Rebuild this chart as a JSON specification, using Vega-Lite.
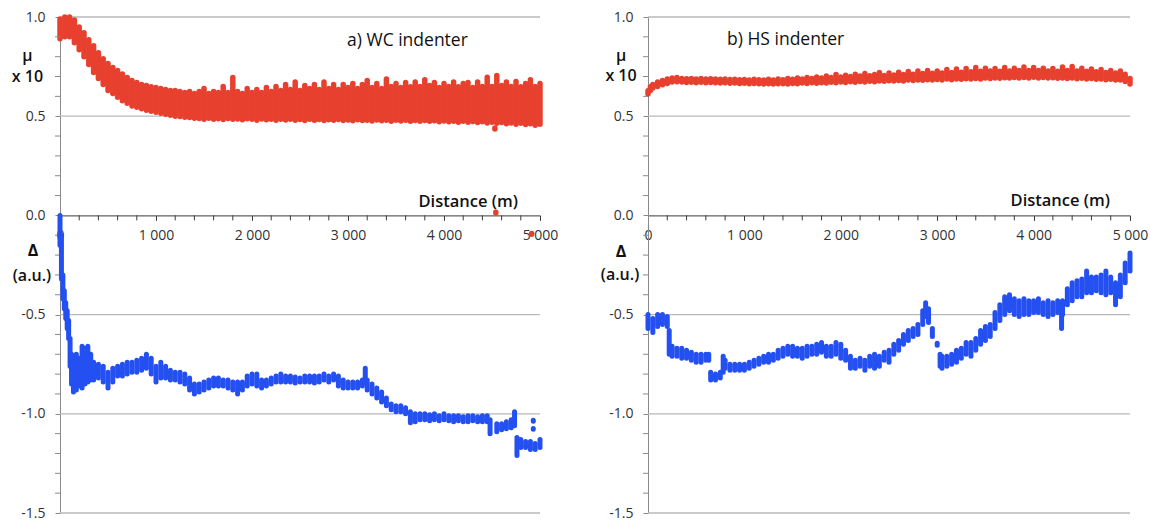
{
  "$schema": "https://vega.github.io/schema/vega-lite/v6.json",
  "padding": {"left": 11, "top": 10, "right": 0, "bottom": 0},
  "background": "white",
  "bounds": "flush",
  "spacing": 108,
  "config": {"view": {"stroke": null}, "font": "Open Sans"},
  "datasets": {
    "xMinor": [{"d":200},{"d":400},{"d":600},{"d":800},{"d":1200},{"d":1400},{"d":1600},{"d":1800},{"d":2200},{"d":2400},{"d":2600},{"d":2800},{"d":3200},{"d":3400},{"d":3600},{"d":3800},{"d":4200},{"d":4400},{"d":4600},{"d":4800}],
    "yMinor": [{"v":-1.4},{"v":-1.3},{"v":-1.2},{"v":-1.1},{"v":-0.9},{"v":-0.8},{"v":-0.7},{"v":-0.6},{"v":-0.4},{"v":-0.3},{"v":-0.2},{"v":-0.1},{"v":0.1},{"v":0.2},{"v":0.3},{"v":0.4},{"v":0.6},{"v":0.7},{"v":0.8},{"v":0.9}],
    "grid": [{"v":1.0},{"v":0.5},{"v":-0.5},{"v":-1.0},{"v":-1.5}],
    "wcMu": [
      {"d":0,"lo":0.89,"hi":0.99},{"d":50,"lo":0.9,"hi":1.0},{"d":100,"lo":0.9,"hi":1.0},{"d":150,"lo":0.87,"hi":0.985},{"d":200,"lo":0.835,"hi":0.95},{"d":250,"lo":0.8,"hi":0.92},{"d":300,"lo":0.76,"hi":0.885},{"d":350,"lo":0.72,"hi":0.855},{"d":400,"lo":0.69,"hi":0.82},{"d":450,"lo":0.66,"hi":0.79},{"d":500,"lo":0.63,"hi":0.765},{"d":550,"lo":0.615,"hi":0.745},{"d":600,"lo":0.595,"hi":0.73},{"d":650,"lo":0.578,"hi":0.713},{"d":700,"lo":0.565,"hi":0.695},{"d":750,"lo":0.552,"hi":0.68},{"d":800,"lo":0.545,"hi":0.67},{"d":850,"lo":0.537,"hi":0.66},{"d":900,"lo":0.53,"hi":0.655},{"d":950,"lo":0.525,"hi":0.648},{"d":1000,"lo":0.52,"hi":0.645},{"d":1050,"lo":0.515,"hi":0.64},{"d":1100,"lo":0.51,"hi":0.635},{"d":1150,"lo":0.505,"hi":0.63},{"d":1200,"lo":0.5,"hi":0.63},{"d":1250,"lo":0.498,"hi":0.625},{"d":1300,"lo":0.495,"hi":0.62},{"d":1350,"lo":0.494,"hi":0.625},{"d":1400,"lo":0.49,"hi":0.615},
      {"d":1450,"lo":0.488,"hi":0.625},{"d":1500,"lo":0.485,"hi":0.64},{"d":1550,"lo":0.49,"hi":0.615},{"d":1600,"lo":0.484,"hi":0.625},{"d":1650,"lo":0.487,"hi":0.62},{"d":1700,"lo":0.483,"hi":0.65},{"d":1750,"lo":0.488,"hi":0.62},{"d":1800,"lo":0.485,"hi":0.695},{"d":1850,"lo":0.486,"hi":0.625},{"d":1900,"lo":0.482,"hi":0.615},{"d":1950,"lo":0.487,"hi":0.64},{"d":2000,"lo":0.484,"hi":0.62},{"d":2050,"lo":0.48,"hi":0.635},{"d":2100,"lo":0.486,"hi":0.62},{"d":2150,"lo":0.482,"hi":0.645},{"d":2200,"lo":0.485,"hi":0.625},{"d":2250,"lo":0.48,"hi":0.65},{"d":2300,"lo":0.484,"hi":0.63},{"d":2350,"lo":0.481,"hi":0.66},{"d":2400,"lo":0.485,"hi":0.635},{"d":2450,"lo":0.48,"hi":0.672},{"d":2500,"lo":0.483,"hi":0.63},{"d":2550,"lo":0.478,"hi":0.655},{"d":2600,"lo":0.484,"hi":0.64},{"d":2650,"lo":0.48,"hi":0.66},{"d":2700,"lo":0.483,"hi":0.635},{"d":2750,"lo":0.478,"hi":0.672},{"d":2800,"lo":0.482,"hi":0.64},{"d":2850,"lo":0.479,"hi":0.66},{"d":2900,"lo":0.483,"hi":0.635},{"d":2950,"lo":0.478,"hi":0.66},{"d":3000,"lo":0.481,"hi":0.645},{"d":3050,"lo":0.477,"hi":0.665},{"d":3100,"lo":0.482,"hi":0.64},{"d":3150,"lo":0.478,"hi":0.66},{"d":3200,"lo":0.48,"hi":0.68},{"d":3250,"lo":0.476,"hi":0.645},{"d":3300,"lo":0.481,"hi":0.665},{"d":3350,"lo":0.477,"hi":0.64},{"d":3400,"lo":0.48,"hi":0.688},{"d":3450,"lo":0.475,"hi":0.65},{"d":3500,"lo":0.479,"hi":0.665},{"d":3550,"lo":0.476,"hi":0.645},{"d":3600,"lo":0.48,"hi":0.67},{"d":3650,"lo":0.475,"hi":0.648},{"d":3700,"lo":0.478,"hi":0.672},{"d":3750,"lo":0.474,"hi":0.65},{"d":3800,"lo":0.478,"hi":0.684},{"d":3850,"lo":0.474,"hi":0.655},{"d":3900,"lo":0.477,"hi":0.67},{"d":3950,"lo":0.472,"hi":0.645},{"d":4000,"lo":0.476,"hi":0.665},{"d":4050,"lo":0.472,"hi":0.65},{"d":4100,"lo":0.475,"hi":0.672},{"d":4150,"lo":0.47,"hi":0.648},{"d":4200,"lo":0.474,"hi":0.665},{"d":4250,"lo":0.47,"hi":0.67},{"d":4300,"lo":0.473,"hi":0.645},{"d":4350,"lo":0.468,"hi":0.672},{"d":4400,"lo":0.472,"hi":0.65},{"d":4450,"lo":0.466,"hi":0.696},{"d":4500,"lo":0.47,"hi":0.65},{"d":4550,"lo":0.465,"hi":0.705},{"d":4600,"lo":0.468,"hi":0.655},{"d":4650,"lo":0.462,"hi":0.672},{"d":4700,"lo":0.466,"hi":0.65},{"d":4750,"lo":0.46,"hi":0.675},{"d":4800,"lo":0.465,"hi":0.648},{"d":4850,"lo":0.458,"hi":0.665},{"d":4900,"lo":0.462,"hi":0.684},{"d":4950,"lo":0.455,"hi":0.65},{"d":5000,"lo":0.46,"hi":0.665},
      {"d":4530,"lo":0.436,"hi":0.44},{"d":4540,"lo":0.012,"hi":0.016},{"d":4913,"lo":-0.095,"hi":-0.091}
    ],
    "wcDelta": [
      {"d":0,"lo":-0.15,"hi":0.0},{"d":15,"lo":-0.32,"hi":-0.1},{"d":30,"lo":-0.42,"hi":-0.3},{"d":45,"lo":-0.47,"hi":-0.38},{"d":60,"lo":-0.52,"hi":-0.44},{"d":75,"lo":-0.57,"hi":-0.48},{"d":90,"lo":-0.62,"hi":-0.53},{"d":105,"lo":-0.76,"hi":-0.62},{"d":120,"lo":-0.85,"hi":-0.7},{"d":140,"lo":-0.89,"hi":-0.72},{"d":170,"lo":-0.88,"hi":-0.7},{"d":200,"lo":-0.86,"hi":-0.72},{"d":230,"lo":-0.87,"hi":-0.66},{"d":260,"lo":-0.85,"hi":-0.67},{"d":290,"lo":-0.84,"hi":-0.66},{"d":320,"lo":-0.83,"hi":-0.7},{"d":350,"lo":-0.83,"hi":-0.74},{"d":400,"lo":-0.82,"hi":-0.75},{"d":450,"lo":-0.84,"hi":-0.76},{"d":500,"lo":-0.87,"hi":-0.79},{"d":550,"lo":-0.84,"hi":-0.77},{"d":600,"lo":-0.81,"hi":-0.76},{"d":650,"lo":-0.81,"hi":-0.75},{"d":700,"lo":-0.8,"hi":-0.74},{"d":750,"lo":-0.79,"hi":-0.74},{"d":800,"lo":-0.79,"hi":-0.73},{"d":850,"lo":-0.78,"hi":-0.72},{"d":900,"lo":-0.77,"hi":-0.7},{"d":950,"lo":-0.8,"hi":-0.72},{"d":1000,"lo":-0.84,"hi":-0.76},{"d":1050,"lo":-0.82,"hi":-0.74},{"d":1100,"lo":-0.82,"hi":-0.76},{"d":1150,"lo":-0.83,"hi":-0.78},{"d":1200,"lo":-0.83,"hi":-0.79},{"d":1250,"lo":-0.84,"hi":-0.79},{"d":1300,"lo":-0.85,"hi":-0.8},{"d":1350,"lo":-0.88,"hi":-0.82},{"d":1400,"lo":-0.9,"hi":-0.85},{"d":1450,"lo":-0.89,"hi":-0.85},{"d":1500,"lo":-0.88,"hi":-0.84},{"d":1550,"lo":-0.87,"hi":-0.83},{"d":1600,"lo":-0.86,"hi":-0.82},{"d":1650,"lo":-0.86,"hi":-0.82},{"d":1700,"lo":-0.86,"hi":-0.83},{"d":1750,"lo":-0.87,"hi":-0.83},{"d":1800,"lo":-0.88,"hi":-0.84},{"d":1850,"lo":-0.9,"hi":-0.84},{"d":1900,"lo":-0.88,"hi":-0.84},{"d":1950,"lo":-0.86,"hi":-0.81},{"d":2000,"lo":-0.85,"hi":-0.8},{"d":2050,"lo":-0.86,"hi":-0.8},{"d":2100,"lo":-0.87,"hi":-0.83},{"d":2150,"lo":-0.86,"hi":-0.83},{"d":2200,"lo":-0.85,"hi":-0.82},{"d":2250,"lo":-0.84,"hi":-0.81},{"d":2300,"lo":-0.84,"hi":-0.8},{"d":2350,"lo":-0.84,"hi":-0.81},{"d":2400,"lo":-0.84,"hi":-0.81},{"d":2450,"lo":-0.845,"hi":-0.815},{"d":2500,"lo":-0.84,"hi":-0.82},{"d":2550,"lo":-0.84,"hi":-0.81},{"d":2600,"lo":-0.84,"hi":-0.81},{"d":2650,"lo":-0.845,"hi":-0.81},{"d":2700,"lo":-0.84,"hi":-0.81},{"d":2750,"lo":-0.83,"hi":-0.8},{"d":2800,"lo":-0.84,"hi":-0.81},{"d":2850,"lo":-0.83,"hi":-0.8},{"d":2900,"lo":-0.86,"hi":-0.81},{"d":2950,"lo":-0.87,"hi":-0.83},{"d":3000,"lo":-0.87,"hi":-0.84},{"d":3050,"lo":-0.87,"hi":-0.84},{"d":3100,"lo":-0.87,"hi":-0.84},{"d":3150,"lo":-0.86,"hi":-0.83},{"d":3180,"lo":-0.84,"hi":-0.77},{"d":3200,"lo":-0.88,"hi":-0.83},{"d":3250,"lo":-0.9,"hi":-0.85},{"d":3300,"lo":-0.92,"hi":-0.87},{"d":3350,"lo":-0.94,"hi":-0.89},{"d":3400,"lo":-0.96,"hi":-0.92},{"d":3450,"lo":-0.98,"hi":-0.95},{"d":3500,"lo":-0.99,"hi":-0.96},{"d":3550,"lo":-0.99,"hi":-0.96},{"d":3600,"lo":-1.0,"hi":-0.97},{"d":3650,"lo":-1.045,"hi":-0.99},{"d":3700,"lo":-1.04,"hi":-1.0},{"d":3750,"lo":-1.03,"hi":-1.0},{"d":3800,"lo":-1.03,"hi":-1.0},{"d":3850,"lo":-1.035,"hi":-1.005},{"d":3900,"lo":-1.03,"hi":-1.0},{"d":3950,"lo":-1.035,"hi":-1.01},{"d":4000,"lo":-1.03,"hi":-1.0},{"d":4050,"lo":-1.035,"hi":-1.01},{"d":4100,"lo":-1.04,"hi":-1.01},{"d":4150,"lo":-1.035,"hi":-1.01},{"d":4200,"lo":-1.04,"hi":-1.015},{"d":4250,"lo":-1.04,"hi":-1.01},{"d":4300,"lo":-1.035,"hi":-1.01},{"d":4350,"lo":-1.04,"hi":-1.015},{"d":4400,"lo":-1.04,"hi":-1.01},{"d":4450,"lo":-1.04,"hi":-1.01},{"d":4480,"lo":-1.1,"hi":-1.03},{"d":4550,"lo":-1.09,"hi":-1.05},{"d":4600,"lo":-1.08,"hi":-1.05},{"d":4650,"lo":-1.075,"hi":-1.04},{"d":4700,"lo":-1.07,"hi":-1.03},{"d":4735,"lo":-1.06,"hi":-0.99},{"d":4760,"lo":-1.21,"hi":-1.12},{"d":4800,"lo":-1.17,"hi":-1.13},{"d":4850,"lo":-1.17,"hi":-1.14},{"d":4900,"lo":-1.18,"hi":-1.14},{"d":4950,"lo":-1.18,"hi":-1.15},{"d":5000,"lo":-1.17,"hi":-1.13},{"d":4930,"lo":-1.037,"hi":-1.033},{"d":4930,"lo":-1.078,"hi":-1.074}
    ],
    "hsMu": [
      {"d":0,"lo":0.612,"hi":0.628},{"d":25,"lo":0.63,"hi":0.648},{"d":50,"lo":0.642,"hi":0.66},{"d":100,"lo":0.65,"hi":0.672},{"d":150,"lo":0.658,"hi":0.68},{"d":200,"lo":0.665,"hi":0.688},{"d":250,"lo":0.672,"hi":0.693},{"d":300,"lo":0.674,"hi":0.695},{"d":350,"lo":0.672,"hi":0.69},{"d":400,"lo":0.67,"hi":0.689},{"d":450,"lo":0.671,"hi":0.69},{"d":500,"lo":0.669,"hi":0.688},{"d":550,"lo":0.671,"hi":0.69},{"d":600,"lo":0.668,"hi":0.688},{"d":650,"lo":0.67,"hi":0.689},{"d":700,"lo":0.669,"hi":0.687},{"d":750,"lo":0.667,"hi":0.686},{"d":800,"lo":0.668,"hi":0.687},{"d":850,"lo":0.666,"hi":0.685},{"d":900,"lo":0.667,"hi":0.686},{"d":950,"lo":0.665,"hi":0.684},{"d":1000,"lo":0.666,"hi":0.685},{"d":1050,"lo":0.664,"hi":0.683},{"d":1100,"lo":0.665,"hi":0.686},{"d":1150,"lo":0.663,"hi":0.684},{"d":1200,"lo":0.662,"hi":0.682},{"d":1250,"lo":0.664,"hi":0.686},{"d":1300,"lo":0.662,"hi":0.683},{"d":1350,"lo":0.663,"hi":0.688},{"d":1400,"lo":0.664,"hi":0.684},{"d":1450,"lo":0.662,"hi":0.69},{"d":1500,"lo":0.665,"hi":0.686},{"d":1550,"lo":0.663,"hi":0.692},{"d":1600,"lo":0.667,"hi":0.688},{"d":1650,"lo":0.665,"hi":0.695},{"d":1700,"lo":0.668,"hi":0.69},{"d":1750,"lo":0.666,"hi":0.698},{"d":1800,"lo":0.669,"hi":0.692},{"d":1850,"lo":0.667,"hi":0.702},{"d":1900,"lo":0.671,"hi":0.695},{"d":1950,"lo":0.668,"hi":0.71},{"d":2000,"lo":0.672,"hi":0.698},{"d":2050,"lo":0.67,"hi":0.706},{"d":2100,"lo":0.674,"hi":0.7},{"d":2150,"lo":0.671,"hi":0.712},{"d":2200,"lo":0.675,"hi":0.702},{"d":2250,"lo":0.672,"hi":0.715},{"d":2300,"lo":0.676,"hi":0.704},{"d":2350,"lo":0.674,"hi":0.71},{"d":2400,"lo":0.678,"hi":0.72},{"d":2450,"lo":0.676,"hi":0.705},{"d":2500,"lo":0.679,"hi":0.718},{"d":2550,"lo":0.677,"hi":0.708},{"d":2600,"lo":0.68,"hi":0.722},{"d":2650,"lo":0.678,"hi":0.71},{"d":2700,"lo":0.682,"hi":0.725},{"d":2750,"lo":0.68,"hi":0.712},{"d":2800,"lo":0.683,"hi":0.728},{"d":2850,"lo":0.681,"hi":0.715},{"d":2900,"lo":0.684,"hi":0.73},{"d":2950,"lo":0.682,"hi":0.716},{"d":3000,"lo":0.685,"hi":0.728},{"d":3050,"lo":0.683,"hi":0.718},{"d":3100,"lo":0.687,"hi":0.735},{"d":3150,"lo":0.684,"hi":0.72},{"d":3200,"lo":0.688,"hi":0.738},{"d":3250,"lo":0.686,"hi":0.722},{"d":3300,"lo":0.689,"hi":0.74},{"d":3350,"lo":0.687,"hi":0.724},{"d":3400,"lo":0.69,"hi":0.745},{"d":3450,"lo":0.688,"hi":0.726},{"d":3500,"lo":0.692,"hi":0.742},{"d":3550,"lo":0.69,"hi":0.728},{"d":3600,"lo":0.693,"hi":0.74},{"d":3650,"lo":0.691,"hi":0.726},{"d":3700,"lo":0.694,"hi":0.745},{"d":3750,"lo":0.692,"hi":0.728},{"d":3800,"lo":0.695,"hi":0.742},{"d":3850,"lo":0.692,"hi":0.73},{"d":3900,"lo":0.695,"hi":0.748},{"d":3950,"lo":0.693,"hi":0.73},{"d":4000,"lo":0.696,"hi":0.745},{"d":4050,"lo":0.693,"hi":0.73},{"d":4100,"lo":0.695,"hi":0.742},{"d":4150,"lo":0.692,"hi":0.728},{"d":4200,"lo":0.694,"hi":0.74},{"d":4250,"lo":0.691,"hi":0.726},{"d":4300,"lo":0.693,"hi":0.748},{"d":4350,"lo":0.69,"hi":0.73},{"d":4400,"lo":0.692,"hi":0.75},{"d":4450,"lo":0.689,"hi":0.728},{"d":4500,"lo":0.691,"hi":0.742},{"d":4550,"lo":0.688,"hi":0.726},{"d":4600,"lo":0.69,"hi":0.738},{"d":4650,"lo":0.686,"hi":0.724},{"d":4700,"lo":0.688,"hi":0.735},{"d":4750,"lo":0.684,"hi":0.72},{"d":4800,"lo":0.686,"hi":0.73},{"d":4850,"lo":0.682,"hi":0.718},{"d":4900,"lo":0.683,"hi":0.728},{"d":4950,"lo":0.675,"hi":0.712},{"d":5000,"lo":0.662,"hi":0.69}
    ],
    "hsDelta": [
      {"d":0,"lo":-0.57,"hi":-0.5},{"d":50,"lo":-0.59,"hi":-0.52},{"d":100,"lo":-0.56,"hi":-0.5},{"d":150,"lo":-0.55,"hi":-0.5},{"d":200,"lo":-0.56,"hi":-0.51},{"d":220,"lo":-0.7,"hi":-0.58},{"d":250,"lo":-0.71,"hi":-0.66},{"d":300,"lo":-0.71,"hi":-0.67},{"d":350,"lo":-0.72,"hi":-0.67},{"d":400,"lo":-0.72,"hi":-0.68},{"d":450,"lo":-0.73,"hi":-0.69},{"d":500,"lo":-0.74,"hi":-0.7},{"d":550,"lo":-0.74,"hi":-0.7},{"d":600,"lo":-0.73,"hi":-0.7},{"d":630,"lo":-0.73,"hi":-0.7},{"d":650,"lo":-0.83,"hi":-0.79},{"d":700,"lo":-0.83,"hi":-0.8},{"d":750,"lo":-0.82,"hi":-0.79},{"d":780,"lo":-0.79,"hi":-0.71},{"d":800,"lo":-0.77,"hi":-0.73},{"d":850,"lo":-0.78,"hi":-0.75},{"d":900,"lo":-0.78,"hi":-0.75},{"d":950,"lo":-0.78,"hi":-0.75},{"d":1000,"lo":-0.78,"hi":-0.75},{"d":1050,"lo":-0.77,"hi":-0.74},{"d":1100,"lo":-0.76,"hi":-0.73},{"d":1150,"lo":-0.75,"hi":-0.72},{"d":1200,"lo":-0.74,"hi":-0.71},{"d":1250,"lo":-0.74,"hi":-0.7},{"d":1300,"lo":-0.73,"hi":-0.7},{"d":1350,"lo":-0.72,"hi":-0.68},{"d":1400,"lo":-0.71,"hi":-0.67},{"d":1450,"lo":-0.7,"hi":-0.66},{"d":1500,"lo":-0.71,"hi":-0.66},{"d":1550,"lo":-0.71,"hi":-0.67},{"d":1600,"lo":-0.72,"hi":-0.67},{"d":1650,"lo":-0.71,"hi":-0.66},{"d":1700,"lo":-0.7,"hi":-0.66},{"d":1750,"lo":-0.7,"hi":-0.65},{"d":1800,"lo":-0.69,"hi":-0.64},{"d":1850,"lo":-0.71,"hi":-0.66},{"d":1900,"lo":-0.71,"hi":-0.66},{"d":1950,"lo":-0.7,"hi":-0.64},{"d":2000,"lo":-0.72,"hi":-0.65},{"d":2050,"lo":-0.73,"hi":-0.68},{"d":2100,"lo":-0.77,"hi":-0.71},{"d":2150,"lo":-0.77,"hi":-0.73},{"d":2200,"lo":-0.76,"hi":-0.72},{"d":2250,"lo":-0.78,"hi":-0.73},{"d":2300,"lo":-0.76,"hi":-0.71},{"d":2350,"lo":-0.77,"hi":-0.7},{"d":2400,"lo":-0.76,"hi":-0.71},{"d":2450,"lo":-0.73,"hi":-0.69},{"d":2500,"lo":-0.74,"hi":-0.68},{"d":2550,"lo":-0.7,"hi":-0.65},{"d":2600,"lo":-0.68,"hi":-0.63},{"d":2650,"lo":-0.65,"hi":-0.6},{"d":2700,"lo":-0.63,"hi":-0.58},{"d":2750,"lo":-0.61,"hi":-0.57},{"d":2800,"lo":-0.6,"hi":-0.55},{"d":2850,"lo":-0.55,"hi":-0.48},{"d":2880,"lo":-0.51,"hi":-0.44},{"d":2910,"lo":-0.54,"hi":-0.47},{"d":2950,"lo":-0.61,"hi":-0.57},{"d":3000,"lo":-0.655,"hi":-0.645},{"d":3030,"lo":-0.76,"hi":-0.7},{"d":3050,"lo":-0.77,"hi":-0.71},{"d":3100,"lo":-0.76,"hi":-0.71},{"d":3150,"lo":-0.75,"hi":-0.7},{"d":3200,"lo":-0.74,"hi":-0.68},{"d":3250,"lo":-0.72,"hi":-0.67},{"d":3300,"lo":-0.7,"hi":-0.64},{"d":3350,"lo":-0.71,"hi":-0.64},{"d":3400,"lo":-0.68,"hi":-0.62},{"d":3450,"lo":-0.65,"hi":-0.58},{"d":3500,"lo":-0.63,"hi":-0.56},{"d":3550,"lo":-0.61,"hi":-0.55},{"d":3600,"lo":-0.57,"hi":-0.49},{"d":3650,"lo":-0.53,"hi":-0.45},{"d":3700,"lo":-0.5,"hi":-0.41},{"d":3750,"lo":-0.48,"hi":-0.4},{"d":3800,"lo":-0.5,"hi":-0.42},{"d":3850,"lo":-0.51,"hi":-0.43},{"d":3900,"lo":-0.5,"hi":-0.42},{"d":3950,"lo":-0.5,"hi":-0.43},{"d":4000,"lo":-0.49,"hi":-0.43},{"d":4050,"lo":-0.49,"hi":-0.42},{"d":4100,"lo":-0.5,"hi":-0.44},{"d":4150,"lo":-0.51,"hi":-0.43},{"d":4200,"lo":-0.5,"hi":-0.44},{"d":4250,"lo":-0.49,"hi":-0.43},{"d":4290,"lo":-0.57,"hi":-0.46},{"d":4300,"lo":-0.5,"hi":-0.43},{"d":4350,"lo":-0.45,"hi":-0.37},{"d":4400,"lo":-0.43,"hi":-0.34},{"d":4450,"lo":-0.41,"hi":-0.33},{"d":4500,"lo":-0.41,"hi":-0.32},{"d":4550,"lo":-0.39,"hi":-0.28},{"d":4600,"lo":-0.39,"hi":-0.31},{"d":4650,"lo":-0.38,"hi":-0.31},{"d":4700,"lo":-0.39,"hi":-0.3},{"d":4750,"lo":-0.4,"hi":-0.28},{"d":4800,"lo":-0.39,"hi":-0.31},{"d":4850,"lo":-0.45,"hi":-0.34},{"d":4900,"lo":-0.41,"hi":-0.3},{"d":4950,"lo":-0.34,"hi":-0.24},{"d":5000,"lo":-0.28,"hi":-0.19}
    ]
  },
  "hconcat": [
    {
      "width": 480,
      "height": 496,
      "layer": [
        {
          "data": {"name": "grid"},
          "mark": {"type": "rule", "color": "#b8b8b8", "strokeWidth": 1.3},
          "encoding": {
            "y": {"field": "v", "type": "quantitative", "scale": {"domain": [-1.5, 1.0], "nice": false},
              "axis": {"title": null, "values": [-1.5,-1,-0.5,0,0.5,1],
                "labelExpr": "replace(format(datum.value, '.1f'), '\u2212', '-')",
                "grid": false,
                "tickSize": 5, "labelPadding": 10, "labelOverlap": false, "labelFlush": false,
                "domainColor": "#8a8a8a", "tickColor": "#8a8a8a", "labelColor": "#333", "labelFont": "Open Sans", "labelFontSize": 14}},
            "x": {"datum": 0, "type": "quantitative", "scale": {"domain": [0, 5000], "nice": false},
              "axis": {"title": null, "values": [0,1000,2000,3000,4000,5000],
                "labelExpr": "replace(format(datum.value, ','), ',', ' ')",
                "offset": -297.6, "tickSize": 5, "labelPadding": 8, "labelOverlap": false, "labelFlush": false,
                "domainColor": "#3a3a3a", "tickColor": "#3a3a3a", "labelColor": "#333", "labelFont": "Open Sans", "labelFontSize": 14, "grid": false}},
            "x2": {"datum": 5000}
          }
        },
        {
          "data": {"name": "wcMu"},
          "mark": {"type": "rule", "color": "#e8402f", "strokeWidth": 5.5, "strokeCap": "round"},
          "encoding": {"x": {"field": "d", "type": "quantitative"}, "y": {"field": "lo", "type": "quantitative"}, "y2": {"field": "hi"}}
        },
        {
          "data": {"name": "xMinor"},
          "mark": {"type": "rule", "color": "#3a3a3a", "strokeWidth": 1},
          "encoding": {"x": {"field": "d", "type": "quantitative"}, "y": {"datum": 0}, "y2": {"datum": -0.0252}}
        },
        {
          "data": {"name": "yMinor"},
          "mark": {"type": "rule", "color": "#8a8a8a", "strokeWidth": 1},
          "encoding": {"y": {"field": "v", "type": "quantitative"}, "x": {"datum": -52}, "x2": {"datum": 0}}
        },
        {
          "data": {"name": "wcDelta"},
          "mark": {"type": "rule", "color": "#2450f2", "strokeWidth": 5, "strokeCap": "round"},
          "encoding": {"x": {"field": "d", "type": "quantitative"}, "y": {"field": "lo", "type": "quantitative"}, "y2": {"field": "hi"}}
        },
        {
          "data": {"values": [{"d": 2990, "v": 0.856, "t": "a) WC indenter"}]},
          "mark": {"type": "text", "align": "left", "baseline": "alphabetic", "font": "Open Sans", "fontSize": 17.5, "color": "#111"},
          "encoding": {"x": {"field": "d", "type": "quantitative"}, "y": {"field": "v", "type": "quantitative"}, "text": {"field": "t"}}
        },
        {
          "data": {"values": [{"d": 4771, "v": 0.043, "t": "Distance (m)"}]},
          "mark": {"type": "text", "align": "right", "baseline": "alphabetic", "font": "Open Sans", "fontSize": 16.5, "fontWeight": 600, "color": "#111"},
          "encoding": {"x": {"field": "d", "type": "quantitative"}, "y": {"field": "v", "type": "quantitative"}, "text": {"field": "t"}}
        },
        {
          "data": {"values": [{"d": -339, "v": 0.78, "t": "μ"}, {"d": -339, "v": 0.672, "t": "x 10"}, {"d": -292, "v": -0.331, "t": "(a.u.)"}]},
          "mark": {"type": "text", "align": "center", "baseline": "alphabetic", "font": "Open Sans", "fontSize": 16, "fontWeight": 600, "color": "#111"},
          "encoding": {"x": {"field": "d", "type": "quantitative"}, "y": {"field": "v", "type": "quantitative"}, "text": {"field": "t"}}
        },
        {
          "data": {"values": [{"d": -281, "v": -0.205, "t": "Δ"}]},
          "mark": {"type": "text", "align": "center", "baseline": "alphabetic", "font": "Open Sans", "fontSize": 16, "fontWeight": "bold", "color": "#111"},
          "encoding": {"x": {"field": "d", "type": "quantitative"}, "y": {"field": "v", "type": "quantitative"}, "text": {"field": "t"}}
        }
      ]
    },
    {
      "width": 482,
      "height": 496,
      "layer": [
        {
          "data": {"name": "grid"},
          "mark": {"type": "rule", "color": "#b8b8b8", "strokeWidth": 1.3},
          "encoding": {
            "y": {"field": "v", "type": "quantitative", "scale": {"domain": [-1.5, 1.0], "nice": false},
              "axis": {"title": null, "values": [-1.5,-1,-0.5,0,0.5,1],
                "labelExpr": "replace(format(datum.value, '.1f'), '\u2212', '-')",
                "grid": false,
                "tickSize": 5, "labelPadding": 10, "labelOverlap": false, "labelFlush": false,
                "domainColor": "#8a8a8a", "tickColor": "#8a8a8a", "labelColor": "#333", "labelFont": "Open Sans", "labelFontSize": 14}},
            "x": {"datum": 0, "type": "quantitative", "scale": {"domain": [0, 5000], "nice": false},
              "axis": {"title": null, "values": [0,1000,2000,3000,4000,5000],
                "labelExpr": "replace(format(datum.value, ','), ',', ' ')",
                "offset": -297.6, "tickSize": 5, "labelPadding": 8, "labelOverlap": false, "labelFlush": false,
                "domainColor": "#3a3a3a", "tickColor": "#3a3a3a", "labelColor": "#333", "labelFont": "Open Sans", "labelFontSize": 14, "grid": false}},
            "x2": {"datum": 5000}
          }
        },
        {
          "data": {"name": "hsMu"},
          "mark": {"type": "rule", "color": "#e8402f", "strokeWidth": 5.5, "strokeCap": "round"},
          "encoding": {"x": {"field": "d", "type": "quantitative"}, "y": {"field": "lo", "type": "quantitative"}, "y2": {"field": "hi"}}
        },
        {
          "data": {"name": "xMinor"},
          "mark": {"type": "rule", "color": "#3a3a3a", "strokeWidth": 1},
          "encoding": {"x": {"field": "d", "type": "quantitative"}, "y": {"datum": 0}, "y2": {"datum": -0.0252}}
        },
        {
          "data": {"name": "yMinor"},
          "mark": {"type": "rule", "color": "#8a8a8a", "strokeWidth": 1},
          "encoding": {"y": {"field": "v", "type": "quantitative"}, "x": {"datum": -52}, "x2": {"datum": 0}}
        },
        {
          "data": {"name": "hsDelta"},
          "mark": {"type": "rule", "color": "#2450f2", "strokeWidth": 5, "strokeCap": "round"},
          "encoding": {"x": {"field": "d", "type": "quantitative"}, "y": {"field": "lo", "type": "quantitative"}, "y2": {"field": "hi"}}
        },
        {
          "data": {"values": [{"d": 820, "v": 0.861, "t": "b) HS indenter"}]},
          "mark": {"type": "text", "align": "left", "baseline": "alphabetic", "font": "Open Sans", "fontSize": 17.5, "color": "#111"},
          "encoding": {"x": {"field": "d", "type": "quantitative"}, "y": {"field": "v", "type": "quantitative"}, "text": {"field": "t"}}
        },
        {
          "data": {"values": [{"d": 4793, "v": 0.048, "t": "Distance (m)"}]},
          "mark": {"type": "text", "align": "right", "baseline": "alphabetic", "font": "Open Sans", "fontSize": 16.5, "fontWeight": 600, "color": "#111"},
          "encoding": {"x": {"field": "d", "type": "quantitative"}, "y": {"field": "v", "type": "quantitative"}, "text": {"field": "t"}}
        },
        {
          "data": {"values": [{"d": -280, "v": 0.78, "t": "μ"}, {"d": -280, "v": 0.676, "t": "x 10"}, {"d": -290, "v": -0.326, "t": "(a.u.)"}]},
          "mark": {"type": "text", "align": "center", "baseline": "alphabetic", "font": "Open Sans", "fontSize": 16, "fontWeight": 600, "color": "#111"},
          "encoding": {"x": {"field": "d", "type": "quantitative"}, "y": {"field": "v", "type": "quantitative"}, "text": {"field": "t"}}
        },
        {
          "data": {"values": [{"d": -280, "v": -0.21, "t": "Δ"}]},
          "mark": {"type": "text", "align": "center", "baseline": "alphabetic", "font": "Open Sans", "fontSize": 16, "fontWeight": "bold", "color": "#111"},
          "encoding": {"x": {"field": "d", "type": "quantitative"}, "y": {"field": "v", "type": "quantitative"}, "text": {"field": "t"}}
        }
      ]
    }
  ]
}
